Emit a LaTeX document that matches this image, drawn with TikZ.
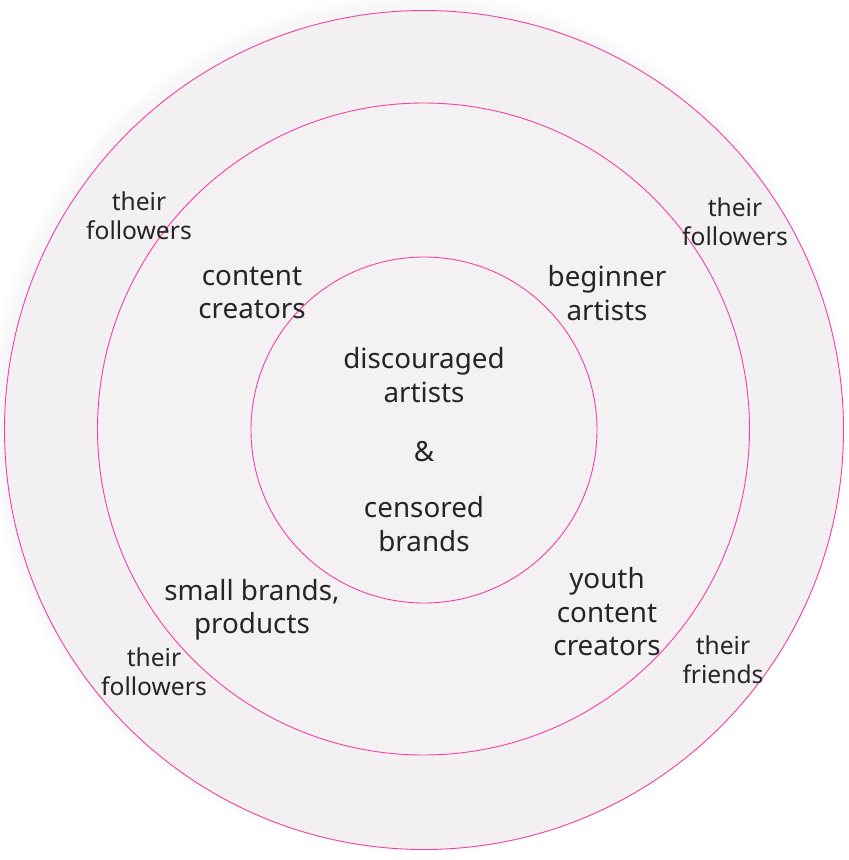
\documentclass[tikz,border=0pt]{standalone}
\usepackage{fontspec}
\setmainfont{Noto Sans}
\definecolor{ringpink}{RGB}{244,64,160}
\definecolor{diskfill}{RGB}{243,240,242}
\definecolor{labeltext}{RGB}{38,36,38}
\begin{document}
\begin{tikzpicture}[x=1pt,y=-1pt,
  ring/.style={draw=ringpink,line width=0.9pt},
  inlabel/.style={text=labeltext,align=center,inner sep=0pt,
    font=\fontsize{27.8}{33.5}\selectfont},
  outlabel/.style={text=labeltext,align=center,inner sep=0pt,
    font=\fontsize{24.6}{29.5}\selectfont}]
\useasboundingbox (0,0) rectangle (849,860);
% soft halo around the outer disk
\foreach \r/\o in {431/0.10,428/0.12,425/0.14,422/0.16,419/0.2}
  \fill[diskfill,opacity=\o] (418,423) circle (\r);
\fill[diskfill] (424,430) circle (419.5);
\fill[diskfill!85!white,opacity=0.5] (424,430) circle (330);
% rings
\draw[ring] (424,430) circle (419.5);
\draw[ring] (423.5,429) circle (326);
\draw[ring] (424,430) circle (173);
% labels
\node[inlabel] (core1) at (424,375) {discouraged\\artists};
\node[inlabel] (amp) at (424,452) {\&};
\node[inlabel] (core2) at (424,524) {censored\\brands};
\node[inlabel] (cc) at (252,293) {content\\creators};
\node[inlabel] (ba) at (607,293) {beginner\\artists};
\node[inlabel] (sb) at (252,610) {small brands,\\products};
\node[inlabel] (ycc) at (607,612) {youth\\content\\creators};
\node[outlabel] (tf1) at (139,216) {their\\followers};
\node[outlabel] (tf2) at (735,222) {their\\followers};
\node[outlabel] (tf3) at (154,672) {their\\followers};
\node[outlabel] (tfr) at (723,660) {their\\friends};
\end{tikzpicture}
\end{document}
